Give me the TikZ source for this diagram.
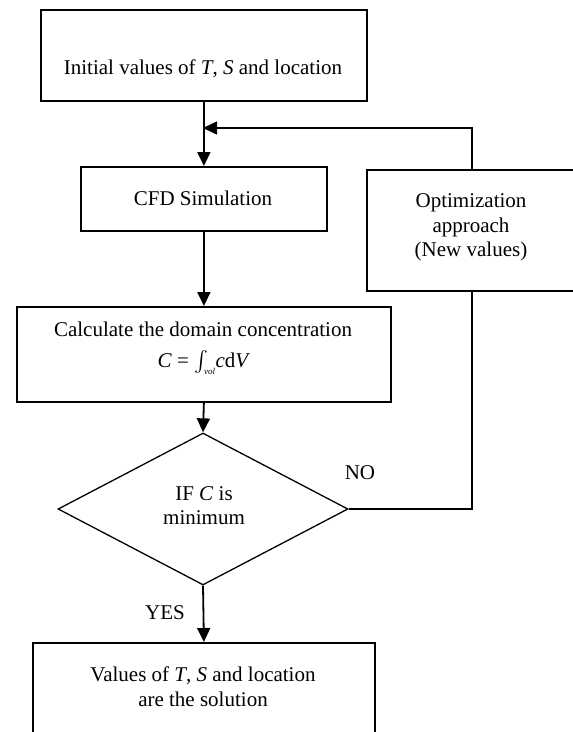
\documentclass[tikz,border=0pt]{standalone}
\usepackage{amsmath}
\usepackage{fontspec}
\setmainfont{Liberation Serif}
\usetikzlibrary{arrows.meta,shapes.geometric}
\begin{document}
\begin{tikzpicture}[x=1pt,y=-1pt,
  boxnode/.style={draw,line width=1.8pt,rectangle,inner sep=0pt,anchor=north west},
  lbl/.style={font=\fontsize{21}{25}\selectfont,anchor=base,inner sep=0pt},
  conn/.style={line width=1.3pt},
  arr/.style={line width=1.8pt,-{Triangle[length=14pt,width=13pt]}}]
\useasboundingbox (0,0) rectangle (573,732);
\clip (0,0) rectangle (573,732);
% boxes
\node[boxnode,minimum width=326pt,minimum height=91pt] (b1) at (40,9) {};
\node[boxnode,minimum width=246pt,minimum height=64pt] (cfd) at (80,166) {};
\node[boxnode,minimum width=210pt,minimum height=121pt] (opt) at (366,169) {};
\node[boxnode,minimum width=374pt,minimum height=95pt] (calc) at (16,306) {};
\node[draw,diamond,line width=1.3pt,inner sep=0pt,minimum width=290pt,minimum height=152pt] (dia) at (203,509) {};
\node[boxnode,minimum width=342pt,minimum height=103pt] (fin) at (32,642) {};
% texts
\node[lbl] (t1) at (203,74) {Initial values of \textit{T}, \textit{S} and location};
\node[lbl] (t2) at (203,205) {CFD Simulation};
\node[lbl] (o1) at (471,207) {Optimization};
\node[lbl] (o2) at (471,232) {approach};
\node[lbl] (o3) at (471,256) {(New values)};
\node[lbl] (c1) at (203,336) {Calculate the domain concentration};
\node[lbl] (c2) at (204,367) {\textit{C} = $\int_{\text{\fontsize{9}{9}\selectfont\itshape vol}}$\textit{c}d\textit{V}};
\node[lbl] (d1) at (204,500) {IF \textit{C} is};
\node[lbl] (d2) at (204,524) {minimum};
\node[lbl] (no) at (360,479) {NO};
\node[lbl] (yes) at (165,619) {YES};
\node[lbl] (f1) at (203,681) {Values of \textit{T}, \textit{S} and location};
\node[lbl] (f2) at (203,706) {are the solution};
% connectors
\coordinate (j) at (203,128);
\draw[arr] (b1.south) -- (cfd.north);
\draw[arr,line width=1.5pt] (opt.north) |- (j);
\draw[arr] (cfd.south) -- (calc.north);
\draw[arr] (calc.south) -- (dia.north);
\draw[conn] (dia.east) -| (opt.south);
\draw[arr] (dia.south) -- (fin.north);
\end{tikzpicture}
\end{document}
